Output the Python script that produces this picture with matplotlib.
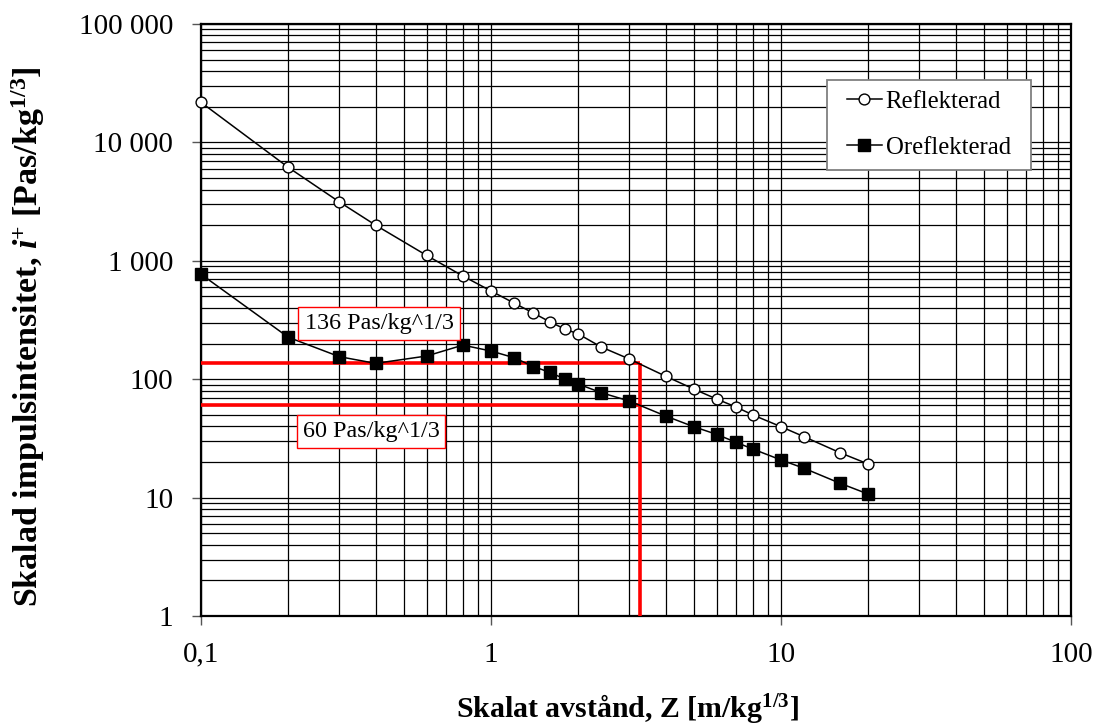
import matplotlib
matplotlib.use("Agg")
import matplotlib.pyplot as plt
from matplotlib.patches import Rectangle
from matplotlib.ticker import FixedLocator, LogLocator, NullFormatter, FixedFormatter

plt.rcParams['font.family'] = ['Liberation Serif', 'DejaVu Serif']
plt.rcParams['mathtext.fontset'] = 'custom'
plt.rcParams['mathtext.rm'] = 'Liberation Serif'
plt.rcParams['mathtext.it'] = 'Liberation Serif:italic'
plt.rcParams['mathtext.bf'] = 'Liberation Serif:bold'
plt.rcParams['mathtext.bfit'] = 'Liberation Serif:bold:italic'

# ---- data ----
z_refl = [0.1, 0.2, 0.3, 0.4, 0.6, 0.8, 1.0, 1.2, 1.4, 1.6, 1.8, 2.0, 2.4, 3.0,
          4, 5, 6, 7, 8, 10, 12, 16, 20]
i_refl = [21800, 6150, 3140, 2000, 1110, 744, 556, 440, 362, 304, 265, 241, 187, 148,
          106, 82.6, 68, 58.2, 49.9, 39.7, 32.7, 23.9, 19.2]

z_orefl = [0.1, 0.2, 0.3, 0.4, 0.6, 0.8, 1.0, 1.2, 1.4, 1.6, 1.8, 2.0, 2.4, 3.0,
           4, 5, 6, 7, 8, 10, 12, 16, 20]
i_orefl = [770, 226, 155, 136, 157, 194, 173, 152, 128, 114, 100, 91, 76.9, 65.4,
           48.9, 39.7, 34.2, 29.3, 25.7, 20.8, 17.7, 13.2, 10.7]

z_read = 3.26          # read-off distance
i_high = 136           # reflected reading
i_low = 60             # unreflected reading
label_high = "136 Pas/kg^1/3"
label_low = "60 Pas/kg^1/3"

legend_labels = ["Reflekterad", "Oreflekterad"]
x_ticks = [0.1, 1, 10, 100]
x_ticklabels = ["0,1", "1", "10", "100"]
y_ticks = [1, 10, 100, 1000, 10000, 100000]
y_ticklabels = ["1", "10", "100", "1 000", "10 000", "100 000"]

# ---- figure ----
fig = plt.figure(figsize=(10.95, 7.27), dpi=100)
ax = fig.add_axes([201/1095, 1 - 616/727, 870/1095, 592/727])
ax.set_xscale('log')
ax.set_yscale('log')
ax.set_xlim(0.1, 100)
ax.set_ylim(1, 100000)

ax.xaxis.set_major_locator(FixedLocator(x_ticks))
ax.xaxis.set_major_formatter(FixedFormatter(x_ticklabels))
ax.yaxis.set_major_locator(FixedLocator(y_ticks))
ax.yaxis.set_major_formatter(FixedFormatter(y_ticklabels))
ax.xaxis.set_minor_locator(LogLocator(base=10, subs=range(2, 10), numticks=20))
ax.yaxis.set_minor_locator(LogLocator(base=10, subs=range(2, 10), numticks=20))
ax.xaxis.set_minor_formatter(NullFormatter())
ax.yaxis.set_minor_formatter(NullFormatter())
ax.tick_params(which='minor', length=0)
ax.tick_params(which='major', length=6.5, width=1, color='#555555',
               labelsize=21, direction='out')
ax.tick_params(axis='x', which='major', pad=12)
ax.tick_params(axis='y', which='major', pad=13.5)

ax.grid(True, which='both', color='black', linewidth=0.9)
ax.set_axisbelow(True)
for s in ax.spines.values():
    s.set_linewidth(1.6)
    s.set_color('black')

# red read-off lines
ax.plot([0.1, z_read], [i_high, i_high], color='#ff0000', lw=2.6, zorder=3,
        solid_capstyle='butt')
ax.plot([0.1, z_read], [i_low, i_low], color='#ff0000', lw=2.6, zorder=3,
        solid_capstyle='butt')
ax.plot([z_read, z_read], [1, i_high], color='#ff0000', lw=2.6, zorder=3,
        solid_capstyle='butt')

# series
ax.plot(z_refl, i_refl, color='black', lw=1.1, marker='o', markersize=7.8,
        markerfacecolor='white', markeredgecolor='black', markeredgewidth=1.0,
        label=legend_labels[0], zorder=4, clip_on=False)
ax.plot(z_orefl, i_orefl, color='black', lw=1.1, marker='s', markersize=8,
        markerfacecolor='black', markeredgecolor='black',
        label=legend_labels[1], zorder=4, clip_on=False)

# annotation boxes
bbox_kw = dict(boxstyle='square,pad=0.25', facecolor='white', edgecolor='#ff0000', linewidth=1.0)
ax.text(0.2046, 0.494, label_high, transform=ax.transAxes, fontsize=17.4,
        ha='center', va='center', bbox=bbox_kw, zorder=5)
ax.text(0.1954, 0.311, label_low, transform=ax.transAxes, fontsize=17.4,
        ha='center', va='center', bbox=bbox_kw, zorder=5)

# legend with manual frame
ax.add_patch(Rectangle((0.7195, 0.7534), 0.954 - 0.7195, 0.9054 - 0.7534,
                       transform=ax.transAxes, facecolor='white',
                       edgecolor='#808080', linewidth=1.3, zorder=5))
leg = ax.legend(loc='center left', bbox_to_anchor=(0.7425, 0.830), frameon=False,
                fontsize=17.8, borderpad=0, borderaxespad=0, handlelength=1.4,
                handletextpad=0.17, labelspacing=0.95)
leg.set_zorder(6)

# axis labels
ax.set_xlabel(r"Skalat avstånd, Z [m/kg$^{\mathbf{1/3}}$]",
              fontsize=21.5, fontweight='bold')
ax.set_ylabel(r"Skalad impulsintensitet, $\mathbfit{i}^{\mathbf{+}}$ [Pas/kg$^{\mathbf{1/3}}$]",
              fontsize=24.5, fontweight='bold')
ax.xaxis.label.set_va('center')
ax.yaxis.label.set_va('center')
ax.xaxis.set_label_coords(0.49, -0.159)
ax.yaxis.set_label_coords(-0.199, 0.471)

fig.savefig('out.png', dpi=100)
